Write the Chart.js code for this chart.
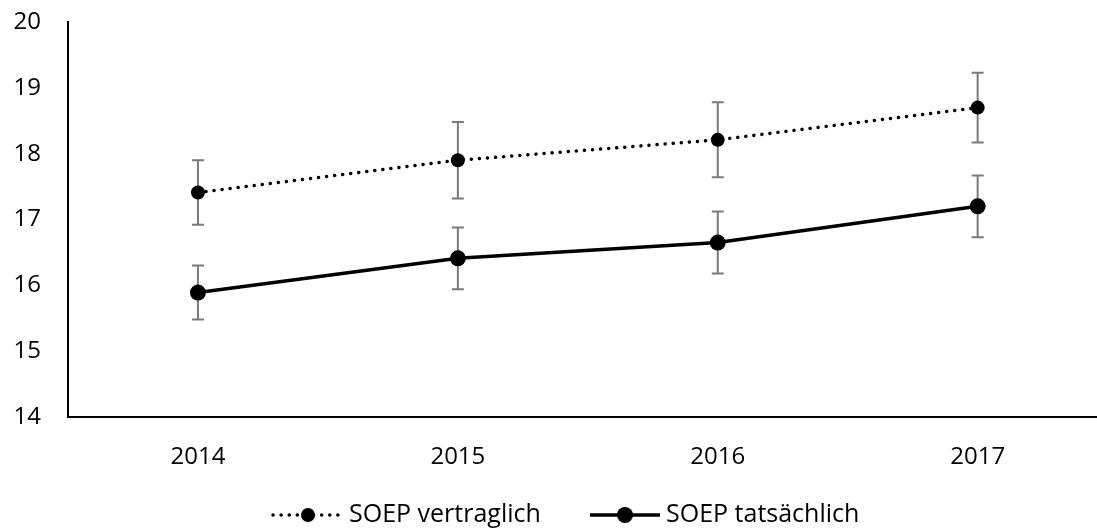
<!DOCTYPE html>
<html>
<head>
<meta charset="utf-8">
<script src="https://cdn.jsdelivr.net/npm/chart.js@4"></script>
<style>
  html, body { margin: 0; padding: 0; background: #fff; overflow: hidden; }
  #wrap { width: 1097px; height: 532px; overflow: hidden; }
</style>
</head>
<body>
<div id="wrap"><canvas id="chart" width="1106" height="532"></canvas></div>
<script>
// Daten
const years = [2014, 2015, 2016, 2017];
const seriesNames = ["SOEP vertraglich", "SOEP tatsächlich"];
const vertraglich = [17.41, 17.9, 18.21, 18.7];
const vertraglichErr = [0.49, 0.58, 0.57, 0.53];
const tatsaechlich = [15.89, 16.41, 16.65, 17.2];
const tatsaechlichErr = [0.41, 0.47, 0.47, 0.47];
const yTicks = [14, 15, 16, 17, 18, 19, 20];

const FONT = "'Open Sans', 'Liberation Sans', sans-serif";

// Fehlerbalken zeichnen
const errorBars = {
  id: 'errorBars',
  beforeDatasetsDraw(chart) {
    const { ctx, scales: { x, y } } = chart;
    ctx.save();
    ctx.strokeStyle = '#7a7a7a';
    ctx.lineWidth = 2;
    chart.data.datasets.forEach(ds => {
      ds.data.forEach((p, i) => {
        const e = ds.errors[i];
        const px = x.getPixelForValue(p.x);
        const top = y.getPixelForValue(p.y + e);
        const bot = y.getPixelForValue(p.y - e);
        ctx.beginPath();
        ctx.moveTo(px, top); ctx.lineTo(px, bot);
        ctx.moveTo(px - 6, top); ctx.lineTo(px + 6, top);
        ctx.moveTo(px - 6, bot); ctx.lineTo(px + 6, bot);
        ctx.stroke();
      });
    });
    ctx.restore();
  }
};

// Legende unten
const bottomLegend = {
  id: 'bottomLegend',
  afterDraw(chart) {
    const { ctx } = chart;
    const yPos = 515;
    const items = [
      { x: 273, ds: chart.data.datasets[0] },
      { x: 590, ds: chart.data.datasets[1] }
    ];
    ctx.save();
    items.forEach(it => {
      const ds = it.ds;
      ctx.strokeStyle = '#000';
      ctx.lineWidth = ds.borderWidth;
      ctx.lineCap = ds.borderCapStyle || 'butt';
      ctx.setLineDash(ds.borderDash || []);
      ctx.beginPath();
      ctx.moveTo(it.x, yPos);
      ctx.lineTo(it.x + 70, yPos);
      ctx.stroke();
      ctx.setLineDash([]);
      ctx.fillStyle = '#000';
      ctx.beginPath();
      ctx.arc(it.x + 35, yPos, ds.pointRadius, 0, Math.PI * 2);
      ctx.fill();
      ctx.font = '25px ' + FONT;
      ctx.textBaseline = 'middle';
      ctx.textAlign = 'left';
      ctx.fillText(ds.label, it.x + 76, yPos);
    });
    ctx.restore();
  }
};

new Chart(document.getElementById('chart'), {
  type: 'line',
  data: {
    datasets: [
      {
        label: seriesNames[0],
        data: years.map((yr, i) => ({ x: yr, y: vertraglich[i] })),
        errors: vertraglichErr,
        borderColor: '#000',
        backgroundColor: '#000',
        borderWidth: 3.5,
        borderDash: [0.1, 8],
        borderCapStyle: 'round',
        pointRadius: 7,
        pointBorderWidth: 0,
        tension: 0
      },
      {
        label: seriesNames[1],
        data: years.map((yr, i) => ({ x: yr, y: tatsaechlich[i] })),
        errors: tatsaechlichErr,
        borderColor: '#000',
        backgroundColor: '#000',
        borderWidth: 3.5,
        pointRadius: 8,
        pointBorderWidth: 0,
        tension: 0
      }
    ]
  },
  options: {
    responsive: false,
    animation: false,
    layout: { padding: { top: 22, right: 0, left: 0, bottom: 0 } },
    plugins: { legend: { display: false }, tooltip: { enabled: false } },
    scales: {
      x: {
        type: 'linear',
        min: 2013.5,
        max: 2017.463,
        afterBuildTicks: s => { s.ticks = years.map(v => ({ value: v })); },
        afterFit: s => { s.height = 115; s.paddingLeft = 0; s.paddingRight = 0; },
        grid: { display: false, drawTicks: false },
        border: { display: true, color: '#000', width: 2 },
        ticks: {
          padding: 26,
          color: '#000',
          font: { family: FONT, size: 24 },
          callback: v => String(v)
        }
      },
      y: {
        min: 14,
        max: 20,
        afterBuildTicks: s => { s.ticks = yTicks.map(v => ({ value: v })); },
        afterFit: s => { s.width = 68; s.paddingTop = 0; s.paddingBottom = 0; },
        grid: { display: false, drawTicks: false },
        border: { display: true, color: '#000', width: 2 },
        ticks: {
          padding: 27,
          color: '#000',
          font: { family: FONT, size: 24 }
        }
      }
    }
  },
  plugins: [errorBars, bottomLegend]
});
</script>
</body>
</html>
